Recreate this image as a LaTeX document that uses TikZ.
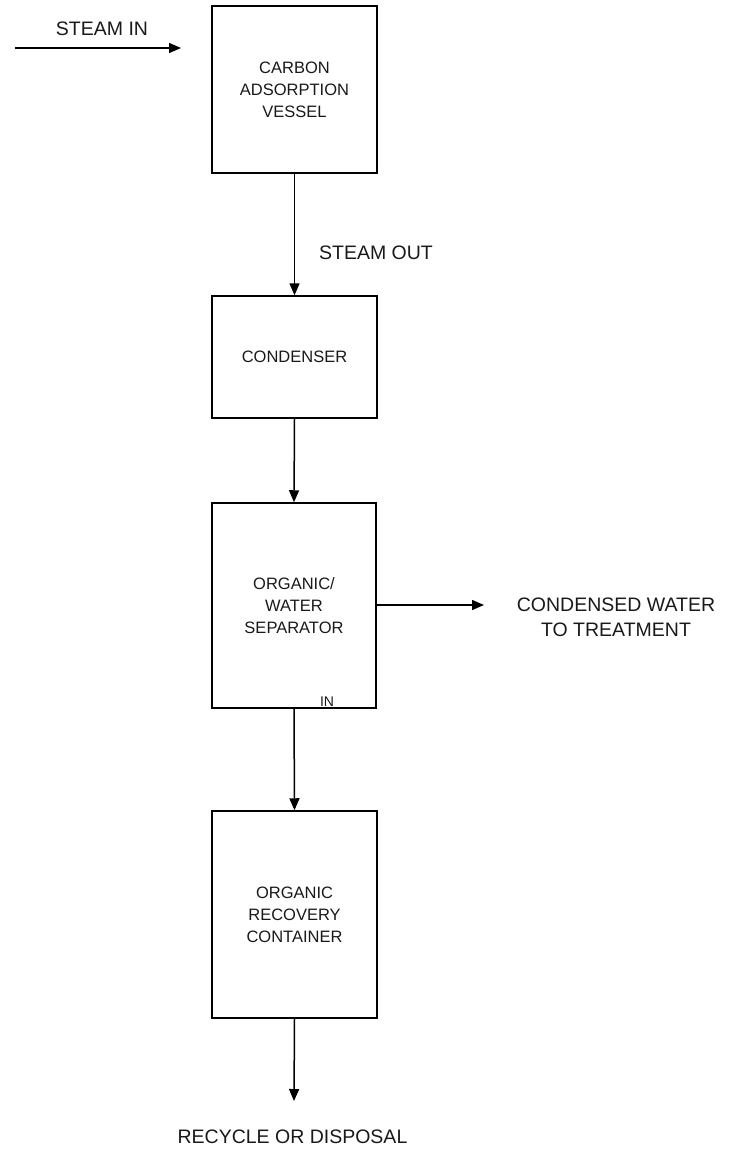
\documentclass[tikz,border=0pt]{standalone}
\usepackage{fontspec}
\setmainfont{Liberation Sans}
\usetikzlibrary{arrows.meta}

\begin{document}
\begin{tikzpicture}[
    x=1pt,
    y=-1pt,
    every node/.style={text=black!90},
    unit/.style={rectangle, draw=black, line width=1.5pt, minimum width=165pt, inner sep=0pt,
        align=center, font=\fontsize{16.5}{22}\selectfont},
    streamlabel/.style={align=center, font=\fontsize{19.5}{25}\selectfont},
    flow/.style={draw=black, line width=1.5pt, -{Triangle[length=12pt, width=10pt]}}
]
    \useasboundingbox (0,0) rectangle (735,1154);

    % process units
    \node[unit, minimum height=167pt] (carbon) at (294.5, 89.5) {CARBON\\ADSORPTION\\VESSEL};
    \node[unit, minimum height=122pt] (condenser) at (294.5, 357) {CONDENSER};
    \node[unit, minimum height=205pt, minimum width=164pt] (separator) at (294, 605.5) {ORGANIC/\\WATER\\SEPARATOR};
    \node[unit, minimum height=207pt] (recovery) at (294.5, 914.5) {ORGANIC\\RECOVERY\\CONTAINER};

    % free ends of the streams
    \coordinate (steamfrom) at (15, 48);
    \coordinate (steamto) at (181, 48);
    \coordinate (waterto) at (484, 605);
    \coordinate (disposalto) at (294, 1101);

    % streams
    \draw[flow] (steamfrom) -- (steamto);
    \draw[flow] (carbon.south) -- (condenser.north);
    \draw[flow] (condenser.south) -- (separator.north);
    \draw[flow] (separator.east |- waterto) -- (waterto);
    \draw[flow] (separator.south) -- (recovery.north);
    \draw[flow] (recovery.south) -- (disposalto);

    % stream labels
    \node[streamlabel] (steamin) at (102, 29) {STEAM IN};
    \node[streamlabel] (steamout) at (376, 253) {STEAM OUT};
    \node[streamlabel] (water) at (616, 617) {CONDENSED WATER\\TO TREATMENT};
    \node[streamlabel] (disposal) at (292.5, 1137) {RECYCLE OR DISPOSAL};
    \node[font=\fontsize{14}{16}\selectfont] (inmark) at (327, 702) {IN};

\end{tikzpicture}
\end{document}
